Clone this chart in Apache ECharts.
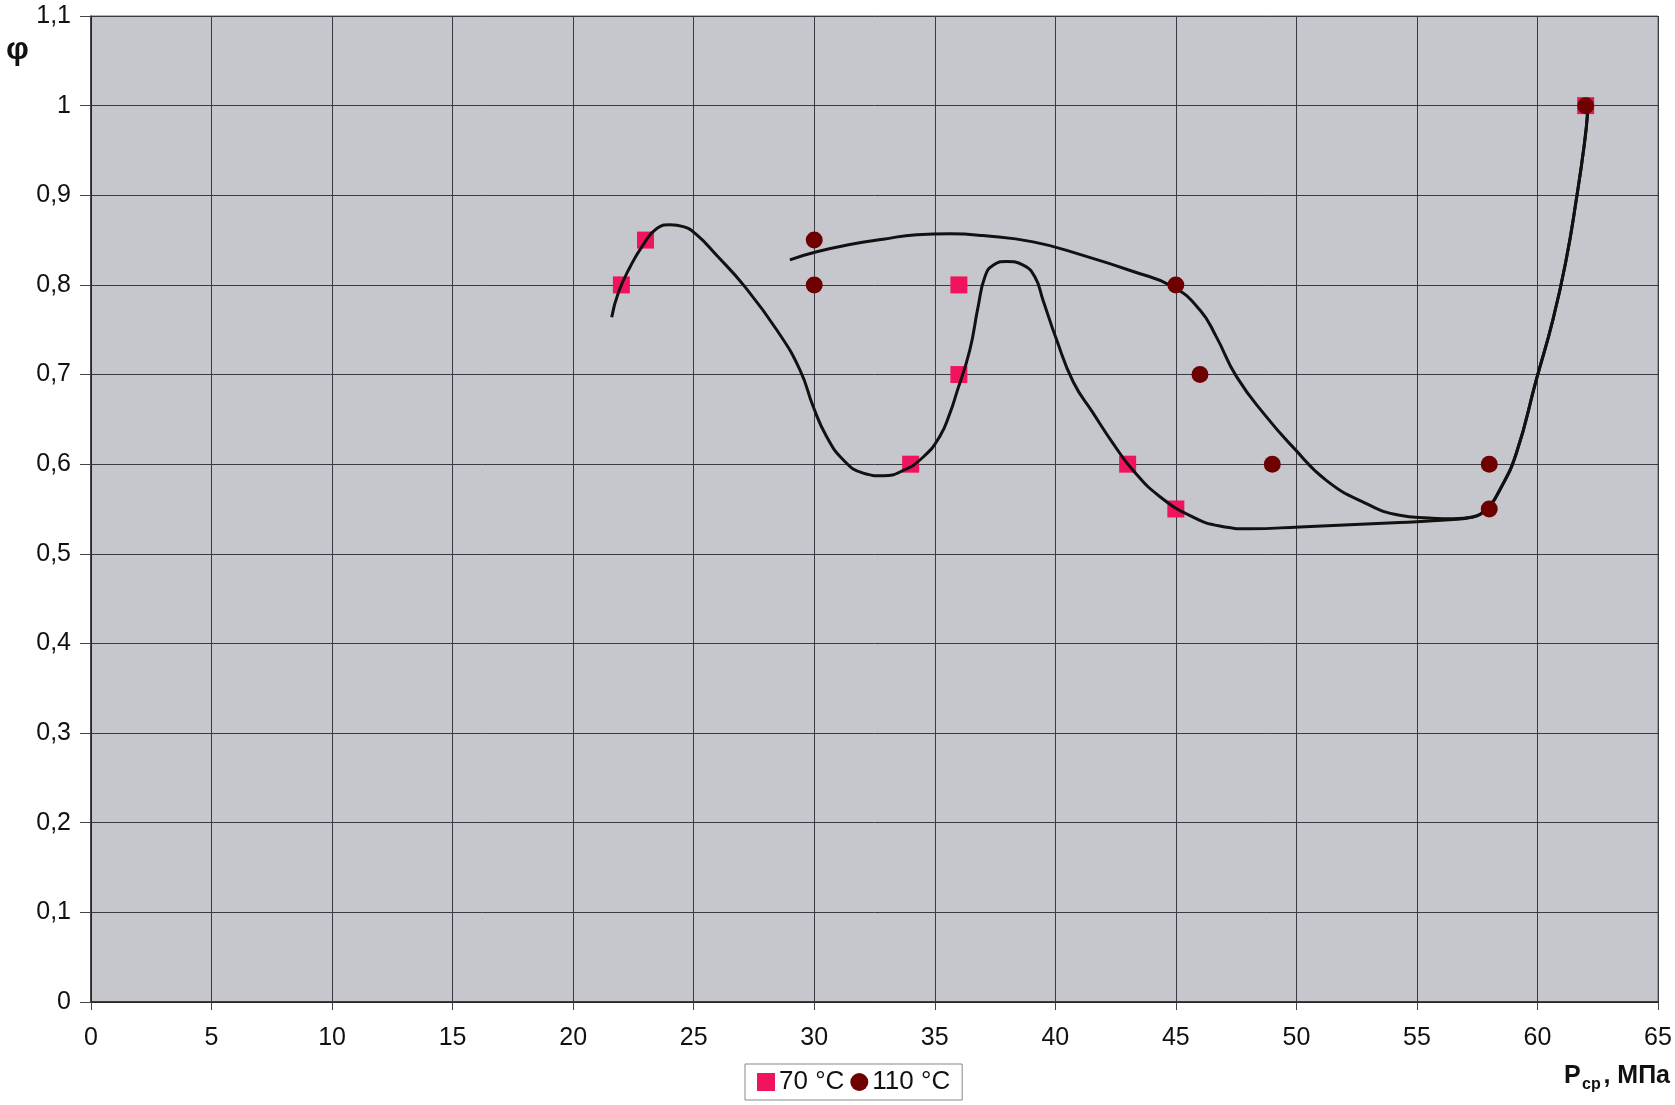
<!DOCTYPE html>
<html><head><meta charset="utf-8">
<script src="https://cdn.jsdelivr.net/npm/echarts@6/dist/echarts.min.js"></script>
<style>html,body{margin:0;padding:0;background:#fff}#c{width:1675px;height:1105px}</style>
</head><body><div id="c"></div>
<script>
// measured points
const x70 = [22, 23, 34, 36, 36, 43, 45, 62];
const y70 = [0.8, 0.85, 0.6, 0.8, 0.7, 0.6, 0.55, 1.0];
const x110 = [30, 30, 45, 46, 49, 58, 58, 62];
const y110 = [0.85, 0.8, 0.8, 0.7, 0.6, 0.6, 0.55, 1.0];
// hand-drawn curves
const c70x = [21.6, 21.87, 22.36, 22.91, 23.47, 24.02, 24.57, 25.12, 25.95, 27.06, 28.44, 29.41, 29.96, 30.51, 31.2, 32.03, 32.86, 33.69, 34.52, 35.21, 35.63, 35.9, 36.45, 36.8, 37.08, 37.42, 37.98, 38.67, 39.15, 39.49, 40.05, 40.74, 41.57, 42.4, 43.23, 44.33, 45.71, 46.82, 48.06, 50.14, 54.28, 56.36, 57.32, 57.94, 58.43, 59.12, 59.95, 60.64, 61.19, 61.61, 61.95, 62.09];
const c70y = [0.764, 0.791, 0.82, 0.845, 0.863, 0.867, 0.865, 0.856, 0.833, 0.8, 0.75, 0.705, 0.664, 0.631, 0.605, 0.59, 0.587, 0.593, 0.608, 0.631, 0.657, 0.679, 0.727, 0.776, 0.809, 0.822, 0.826, 0.822, 0.809, 0.783, 0.739, 0.692, 0.657, 0.623, 0.593, 0.564, 0.541, 0.531, 0.528, 0.53, 0.535, 0.538, 0.541, 0.552, 0.571, 0.612, 0.694, 0.761, 0.828, 0.895, 0.958, 0.995];
const c110x = [28.99, 30.1, 31.48, 32.86, 34.25, 35.63, 37.0, 39.08, 41.15, 43.23, 44.88, 46.0, 46.68, 47.51, 48.75, 49.86, 51.24, 52.9, 54.28, 55.5, 56.5, 57.32, 57.94, 58.43, 59.12, 59.95, 60.64, 61.19, 61.61, 61.95, 62.09];
const c110y = [0.828, 0.837, 0.845, 0.851, 0.856, 0.857, 0.855, 0.848, 0.833, 0.815, 0.798, 0.772, 0.742, 0.698, 0.653, 0.619, 0.582, 0.556, 0.543, 0.54, 0.539, 0.541, 0.552, 0.571, 0.612, 0.694, 0.761, 0.828, 0.895, 0.958, 0.995];
const yTickLabels = ['0', '0,1', '0,2', '0,3', '0,4', '0,5', '0,6', '0,7', '0,8', '0,9', '1', '1,1'];
const seriesNames = ['70 °C', '110 °C'];

const zip = (a, b) => a.map((v, i) => [v, b[i]]);
const chart = echarts.init(document.getElementById('c'));
const FONT = 'Liberation Sans, Arial, sans-serif';
chart.setOption({
  animation: false,
  backgroundColor: '#ffffff',
  grid: {left: 91, right: 17, top: 16, bottom: 103, show: true, backgroundColor: '#c6c7cd', borderColor: '#6a6a72', borderWidth: 1},
  xAxis: {
    type: 'value', min: 0, max: 65, interval: 5,
    axisLine: {show: true, onZero: false, lineStyle: {color: '#222', width: 1.5}},
    axisTick: {show: true, length: 8, lineStyle: {color: '#444'}},
    axisLabel: {color: '#111', fontSize: 25, fontFamily: FONT, margin: 24},
    splitLine: {show: true, lineStyle: {color: '#3a3a44', width: 1}}
  },
  yAxis: {
    type: 'value', min: 0, max: 1.1, interval: 0.1,
    axisLine: {show: true, onZero: false, lineStyle: {color: '#222', width: 1.5}},
    axisTick: {show: true, length: 11, lineStyle: {color: '#444'}},
    axisLabel: {color: '#111', fontSize: 25, fontFamily: FONT, margin: 20,
      formatter: v => yTickLabels[Math.round(v * 10)]},
    splitLine: {show: true, lineStyle: {color: '#3a3a44', width: 1}}
  },
  legend: {
    data: [{name: seriesNames[0], icon: 'rect'}, {name: seriesNames[1], icon: 'circle'}],
    left: 745, top: 1064, orient: 'horizontal',
    itemWidth: 18, itemHeight: 18, itemGap: 6,
    padding: [5, 12, 5, 12],
    borderColor: '#888', borderWidth: 1, backgroundColor: '#fff',
    textStyle: {fontSize: 26, color: '#111', fontFamily: FONT, padding: [0, 0, 0, -1]}
  },
  graphic: [
    {type: 'text', left: 6, top: 34, style: {text: 'φ', font: 'bold 32px ' + FONT, fill: '#111'}},
    {type: 'text', left: 1564, top: 1064, style: {text: 'P', font: 'bold 25px ' + FONT, fill: '#111'}},
    {type: 'text', left: 1582, top: 1077, style: {text: 'ср', font: 'bold 16px ' + FONT, fill: '#111'}},
    {type: 'text', right: 5, top: 1064, style: {text: ', МПа', font: 'bold 25px ' + FONT, fill: '#111'}}
  ],
  series: [
    {name: 'c70', type: 'line', data: zip(c70x, c70y), smooth: 0.5, showSymbol: false, z: 4,
      lineStyle: {color: '#111', width: 3}, silent: true},
    {name: 'c110', type: 'line', data: zip(c110x, c110y), smooth: 0.5, showSymbol: false, z: 4,
      lineStyle: {color: '#111', width: 3}, silent: true},
    {name: seriesNames[0], type: 'scatter', data: zip(x70, y70), symbol: 'rect', symbolSize: 17, z: 3,
      itemStyle: {color: '#f0145f', opacity: 1}},
    {name: seriesNames[1], type: 'scatter', data: zip(x110, y110), symbol: 'circle', symbolSize: 17, z: 5,
      itemStyle: {color: '#6e0000', opacity: 1}}
  ]
});
</script></body></html>
